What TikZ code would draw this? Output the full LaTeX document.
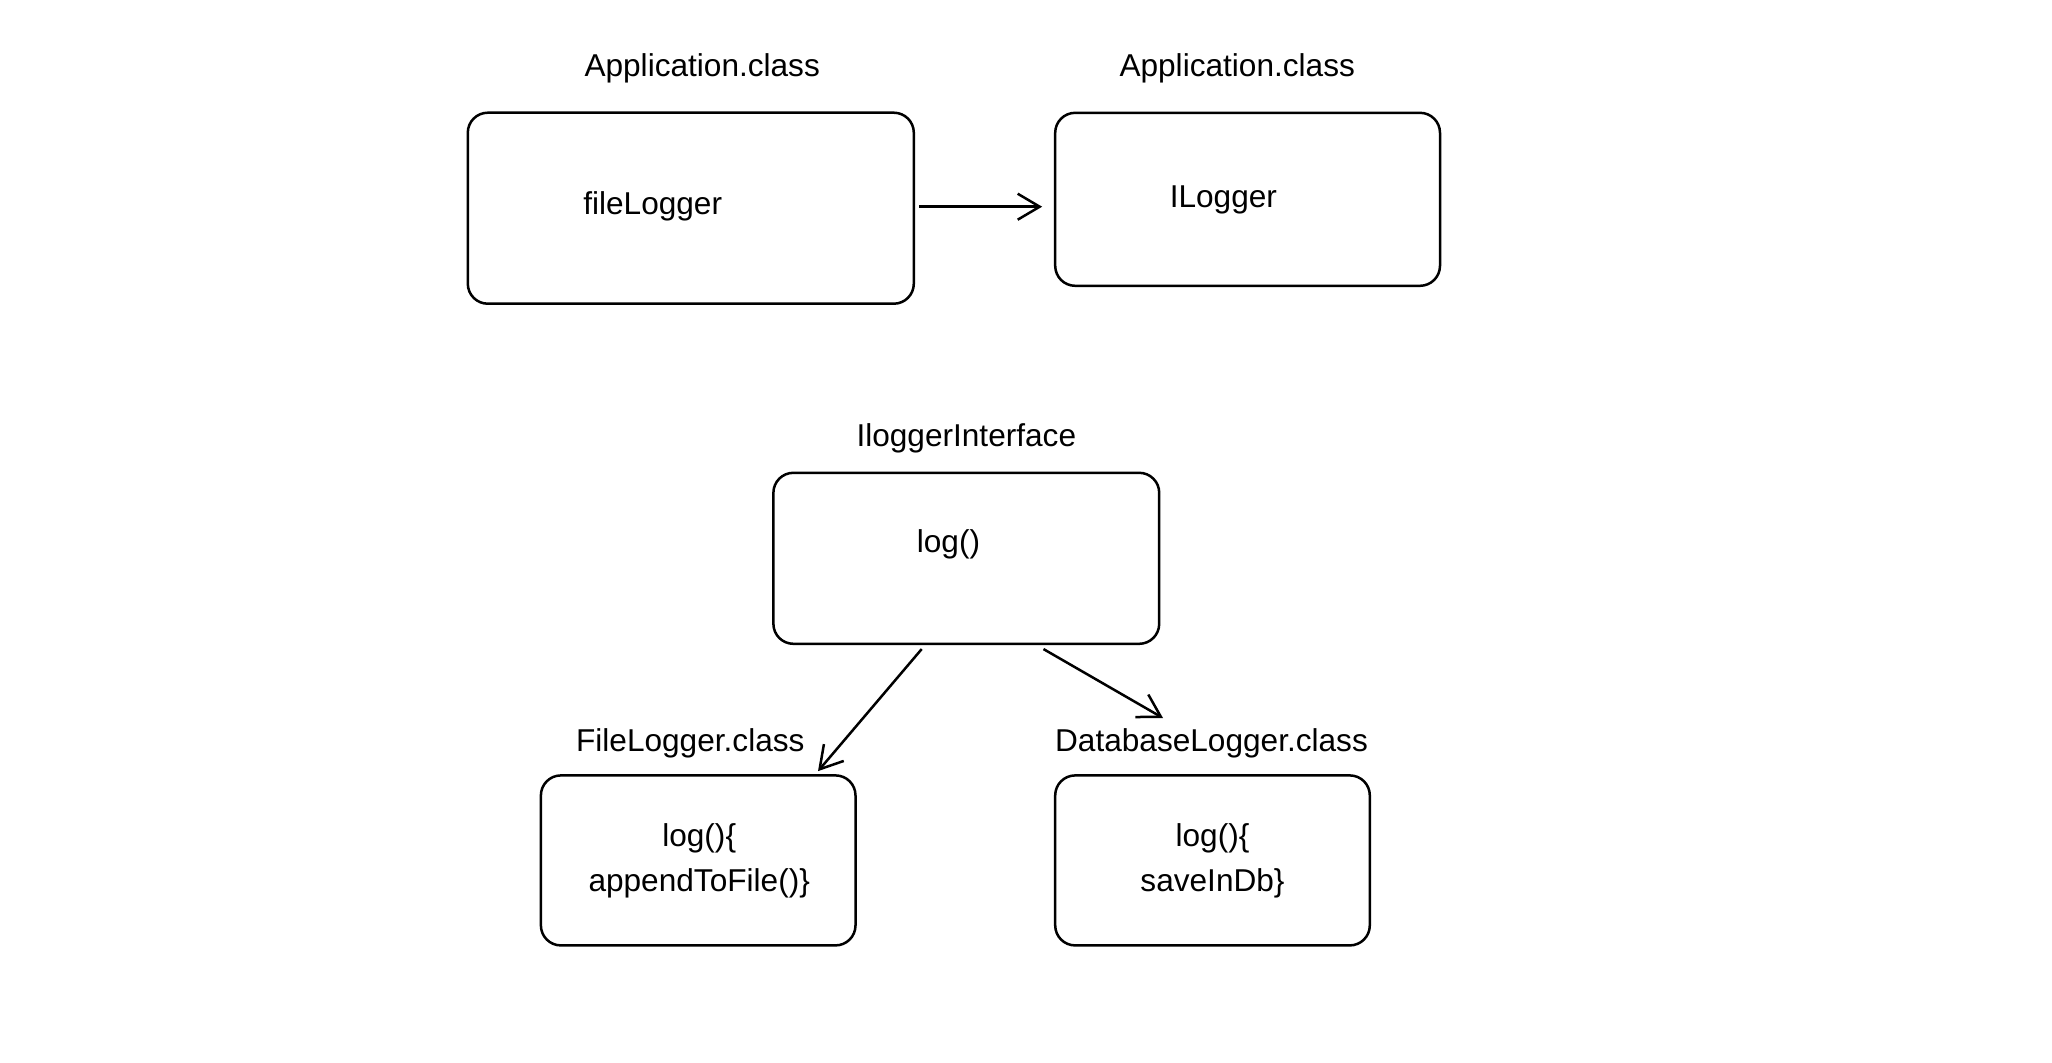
\documentclass[tikz,border=0pt]{standalone}
\usepackage{fontspec}
\setmainfont{Liberation Sans}
\usetikzlibrary{arrows.meta}

\tikzset{
  classbox/.style={draw, line width=1.25pt, rounded corners=10pt, inner sep=0pt},
  txt/.style={inner sep=0pt, yshift=-1.75pt, font=\fontsize{15.8}{22.25}\selectfont, align=center},
  link/.style={line width=1.25pt, -{Straight Barb[length=11pt,width=13pt,line width=1.25pt]}}
}

\begin{document}
\begin{tikzpicture}[x=0.5pt, y=-0.5pt]
      \useasboundingbox (0,0) rectangle (2052,1062);
      % top row
      \node [classbox, minimum width=223pt, minimum height=95.5pt] (app) at (690.8, 208.2) {};
      \node [classbox, minimum width=192.4pt, minimum height=86.5pt] (ilog) at (1247.6, 199.3) {};
      \node [txt] (apptitle) at (702.2, 65.3) {Application.class};
      \node [txt] (ilogtitle) at (1237.2, 65.3) {Application.class};
      \node [txt] (filelogger) at (652.7, 202.7) {fileLogger};
      \node [txt] (ilogger) at (1223.4, 196.8) {ILogger};
      \draw [link] ([xshift=2pt, yshift=0.75pt]app.east) -- ([xshift=-5.9pt, yshift=-3.7pt]ilog.west);
      % interface
      \node [classbox, minimum width=192.9pt, minimum height=85.5pt] (iface) at (966.3, 558.3) {};
      \node [txt] (ifacetitle) at (966.3, 435.2) {IloggerInterface};
      \node [txt] (logm) at (948.5, 541) {log()};
      % implementations
      \node [classbox, minimum width=157.3pt, minimum height=85pt] (filecls) at (698.2, 860.4) {};
      \node [classbox, minimum width=157.3pt, minimum height=85pt] (dbcls) at (1212.5, 860.4) {};
      \node [txt] (filetitle) at (690.3, 739.8) {FileLogger.class};
      \node [txt] (dbtitle) at (1211.5, 739.8) {DatabaseLogger.class};
      \node [txt] (filebody) at (699.2, 857.5) {log()\{\\appendToFile()\}};
      \node [txt] (dbbody) at (1212.5, 857.5) {log()\{\\saveInDb\}};
      \coordinate (dbend) at (1163, 718);
      \draw [link] ([xshift=-22.3pt, yshift=-2pt]iface.south) -- ([xshift=59.9pt, yshift=1.5pt]filecls.north);
      \draw [link] ([xshift=38.6pt, yshift=-2pt]iface.south) -- (dbend);
\end{tikzpicture}
\end{document}
